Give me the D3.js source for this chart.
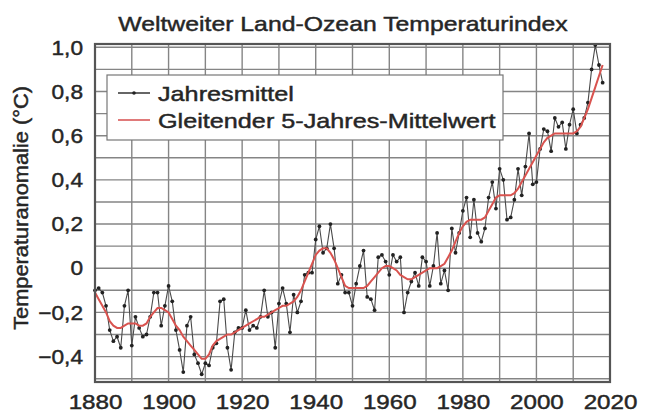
<!DOCTYPE html>
<html><head><meta charset="utf-8">
<script src="https://cdn.jsdelivr.net/npm/d3@7"></script>
<style>
html,body{margin:0;padding:0;background:#fff;}
svg{display:block;}
text{font-family:"Liberation Sans",Arial,Helvetica,sans-serif;fill:#262626;stroke:#262626;stroke-width:0.45px;}
</style></head>
<body>
<svg id="chart" width="649" height="416"></svg>
<script>
const title = "Weltweiter Land-Ozean Temperaturindex";
const yTitle = "Temperaturanomalie (°C)";
const legendLabels = ["Jahresmittel", "Gleitender 5-Jahres-Mittelwert"];
const startYear = 1880;
const annual = [
 -0.10,-0.09,-0.11,-0.17,-0.28,-0.33,-0.31,-0.36,-0.17,-0.10,
 -0.35,-0.22,-0.27,-0.31,-0.30,-0.22,-0.11,-0.11,-0.26,-0.17,
 -0.08,-0.15,-0.28,-0.37,-0.47,-0.26,-0.22,-0.39,-0.43,-0.48,
 -0.43,-0.44,-0.36,-0.34,-0.15,-0.14,-0.36,-0.46,-0.29,-0.27,
 -0.27,-0.19,-0.28,-0.26,-0.27,-0.22,-0.10,-0.22,-0.20,-0.36,
 -0.16,-0.09,-0.16,-0.29,-0.12,-0.20,-0.15,-0.03,-0.02,-0.02,
  0.13, 0.19, 0.07, 0.09, 0.20, 0.09,-0.07,-0.03,-0.11,-0.11,
 -0.17,-0.07, 0.01, 0.08,-0.13,-0.14,-0.19, 0.05, 0.06, 0.03,
 -0.03, 0.06, 0.03, 0.05,-0.20,-0.11,-0.06,-0.02,-0.08, 0.05,
  0.03,-0.08, 0.01, 0.16,-0.07,-0.01,-0.10, 0.18, 0.07, 0.16,
  0.26, 0.32, 0.14, 0.31, 0.16, 0.12, 0.18, 0.32, 0.39, 0.27,
  0.45, 0.40, 0.22, 0.23, 0.31, 0.45, 0.33, 0.46, 0.61, 0.38,
  0.39, 0.54, 0.63, 0.62, 0.53, 0.68, 0.64, 0.66, 0.54, 0.65,
  0.72, 0.61, 0.65, 0.68, 0.75, 0.90, 1.01, 0.92, 0.84
];
const smooth = [
 -0.11,-0.14,-0.17,-0.20,-0.24,-0.26,-0.27,-0.27,-0.26,-0.25,
 -0.25,-0.25,-0.26,-0.26,-0.25,-0.22,-0.20,-0.18,-0.18,-0.19,
 -0.20,-0.23,-0.26,-0.28,-0.31,-0.33,-0.35,-0.37,-0.39,-0.41,
 -0.41,-0.39,-0.35,-0.33,-0.32,-0.31,-0.30,-0.30,-0.29,-0.28,
 -0.27,-0.26,-0.25,-0.24,-0.23,-0.22,-0.22,-0.21,-0.20,-0.19,
 -0.18,-0.17,-0.17,-0.16,-0.15,-0.13,-0.10,-0.06,-0.02, 0.02,
  0.06, 0.08, 0.09, 0.09, 0.07, 0.04, 0.00,-0.04,-0.08,-0.09,
 -0.09,-0.09,-0.09,-0.09,-0.08,-0.06,-0.04,-0.02, 0.00, 0.01,
  0.01, 0.00,-0.01,-0.03,-0.04,-0.05,-0.05,-0.04,-0.03,-0.02,
 -0.01, 0.00, 0.00, 0.00, 0.01, 0.02, 0.05, 0.08, 0.12, 0.16,
  0.19, 0.21, 0.22, 0.22, 0.22, 0.22, 0.23, 0.26, 0.29, 0.32,
  0.33, 0.33, 0.33, 0.33, 0.34, 0.36, 0.39, 0.42, 0.45, 0.48,
  0.51, 0.54, 0.57, 0.59, 0.60, 0.61, 0.61, 0.61, 0.61, 0.61,
  0.61, 0.62, 0.64, 0.68, 0.72, 0.77, 0.82, 0.87, 0.92
];
const xTicks = [1880,1900,1920,1940,1960,1980,2000,2020];
const yTicks = [-0.4,-0.2,0,0.2,0.4,0.6,0.8,1.0];
const yTickLabels = ["\u22120,4","\u22120,2","0","0,2","0,4","0,6","0,8","1,0"];

const years = annual.map((_, i) => startYear + i);
const svg = d3.select("#chart");
const L = 95, R = 610, T = 44, B = 382;
const x = d3.scaleLinear().domain([1880, 2020]).range([L, R]);
const y = d3.scaleLinear().domain([-0.515, 1.015]).range([B, T]);

function stretch(sel, f) {
  sel.each(function () {
    const w = this.getComputedTextLength();
    d3.select(this).attr("textLength", w * f).attr("lengthAdjust", "spacingAndGlyphs");
  });
}

// title
svg.append("text").attr("x", 343).attr("y", 31).attr("text-anchor", "middle")
  .style("font-size", "21px").text(title).call(stretch, 1.18);

// grid
const grid = svg.append("g");
grid.selectAll("line.v").data(d3.range(1890, 2020, 10)).join("line")
  .attr("x1", d => x(d)).attr("x2", d => x(d)).attr("y1", T).attr("y2", B)
  .attr("stroke", "#858585").attr("stroke-width", 1.4);
grid.selectAll("line.h").data(d3.range(-5, 11).map(v => v / 10)).join("line")
  .attr("x1", L).attr("x2", R).attr("y1", d => y(d)).attr("y2", d => y(d))
  .attr("stroke", "#858585").attr("stroke-width", 1.4);

// axes (labels only)
const xAxis = d3.axisBottom(x).tickValues(xTicks).tickFormat(d3.format("d")).tickSize(0).tickPadding(12);
const gx = svg.append("g").attr("transform", `translate(0,${B})`).call(xAxis);
gx.select(".domain").remove();
gx.selectAll("text").style("font-size", "21px").attr("fill", "#262626").attr("dy", "0.71em").call(stretch, 1.15);

const yAxis = d3.axisLeft(y).tickValues(yTicks).tickFormat((d, i) => yTickLabels[i]).tickSize(0).tickPadding(12);
const gy = svg.append("g").attr("transform", `translate(${L},0)`).call(yAxis);
gy.select(".domain").remove();
gy.selectAll("text").style("font-size", "21px").attr("fill", "#262626").call(stretch, 1.08);

svg.append("text").attr("transform", `translate(28,${(T + B) / 2 - 5}) rotate(-90)`)
  .attr("text-anchor", "middle").style("font-size", "20px").text(yTitle).call(stretch, 1.09);

// data
const lineA = d3.line().x((d, i) => x(years[i])).y(d => y(d));
svg.append("path").datum(annual).attr("d", lineA).attr("fill", "none")
  .attr("stroke", "#4a4a4a").attr("stroke-width", 1.1);
svg.append("g").selectAll("circle").data(annual).join("circle")
  .attr("cx", (d, i) => x(years[i])).attr("cy", d => y(d)).attr("r", 1.9).attr("fill", "#222");
svg.append("path").datum(smooth).attr("d", lineA).attr("fill", "none")
  .attr("stroke", "#d9534f").attr("stroke-width", 2);

// frame
svg.append("rect").attr("x", L).attr("y", T).attr("width", R - L).attr("height", B - T)
  .attr("fill", "none").attr("stroke", "#555").attr("stroke-width", 2.2);

// legend
const lg = svg.append("g");
lg.append("rect").attr("x", 107).attr("y", 75).attr("width", 396).attr("height", 65)
  .attr("fill", "#fff").attr("stroke", "#777").attr("stroke-width", 1.2);
lg.append("line").attr("x1", 118).attr("x2", 150).attr("y1", 93).attr("y2", 93).attr("stroke", "#333").attr("stroke-width", 1.5);
lg.append("circle").attr("cx", 134).attr("cy", 93).attr("r", 1.8).attr("fill", "#222");
lg.append("line").attr("x1", 118).attr("x2", 150).attr("y1", 120).attr("y2", 120).attr("stroke", "#e07a7a").attr("stroke-width", 2);
lg.selectAll("text").data(legendLabels).join("text")
  .attr("x", 158).attr("y", (d, i) => 94 + i * 27).attr("dy", "0.35em")
  .style("font-size", "21px").text(d => d).call(stretch, 1.2);
</script>
</body></html>
